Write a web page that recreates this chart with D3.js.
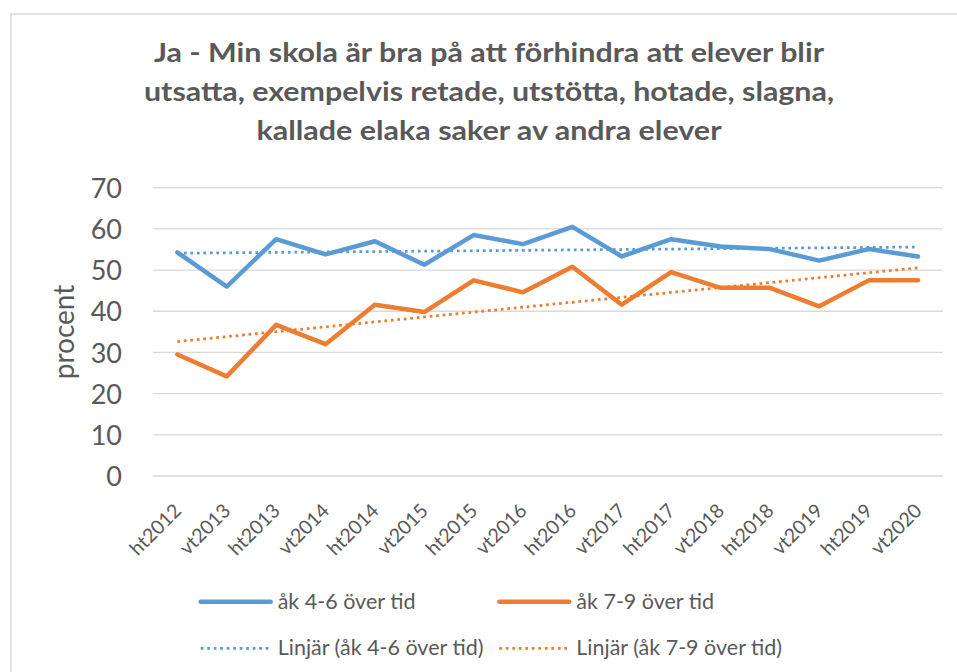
<!DOCTYPE html>
<meta charset='utf-8'>
<style>
	body { margin: 0; background: #fff; }
	#container { width: 957px; height: 672px; }
	text { font-family: Lato, 'Open Sans', sans-serif; fill: #595959; }
</style>
<body>
	<div id='container'>
	</div>
<script src='https://d3js.org/d3.v7.min.js'></script>
<script>
    const terms = ['ht2012', 'vt2013', 'ht2013', 'vt2014', 'ht2014', 'vt2015', 'ht2015', 'vt2016',
		'ht2016', 'vt2017', 'ht2017', 'vt2018', 'ht2018', 'vt2019', 'ht2019', 'vt2020'];
    const ak46 = [54.3, 46.0, 57.5, 53.8, 57.0, 51.3, 58.5, 56.3, 60.5, 53.3, 57.5, 55.7, 55.1, 52.3, 55.1, 53.3];
    const ak79 = [29.5, 24.2, 36.7, 32.0, 41.6, 39.8, 47.5, 44.6, 50.8, 41.6, 49.5, 45.7, 45.7, 41.2, 47.5, 47.5];
    const yTicks = [0, 10, 20, 30, 40, 50, 60, 70];
    const titleLines = ['Ja - Min skola är bra på att förhindra att elever blir',
		'utsatta, exempelvis retade, utstötta, hotade, slagna,',
		'kallade elaka saker av andra elever'];
    const seriesNames = ['åk 4-6 över tid', 'åk 7-9 över tid'];
    const trendNames = ['Linjär (åk 4-6 över tid)', 'Linjär (åk 7-9 över tid)'];
    const colors = ['#5b9bd5', '#ed7d31'];

    const plot = { left: 152.7, right: 942.7, top: 187.7, bottom: 476 };
    // widths of the title lines as they stand in the picture
    const titleWidths = [670, 690, 465];

    let svg = d3.select( '#container' )
		.append( 'svg' )
		.attr( 'width', 957 )
		.attr( 'height', 672 );

	// chart frame (right and bottom edges fall outside the picture)
	svg.append( 'path' )
		.attr( 'd', 'M11,700 V14 H990' )
		.attr( 'fill', 'none' )
		.attr( 'stroke', '#d9d9d9' )
		.attr( 'stroke-width', 1.5 );

	let title = svg.append( 'text' )
		.attr( 'text-anchor', 'middle' )
		.style( 'font-weight', 'bold' )
		.style( 'font-size', '27px' );
	titleLines.forEach( ( t, i ) => {
		title.append( 'tspan' )
			.attr( 'x', 489 )
			.attr( 'y', 62.3 + i * 38.8 )
			.attr( 'textLength', titleWidths[i] )
			.attr( 'lengthAdjust', 'spacingAndGlyphs' )
			.text( t );
	} );

	let xScale = d3.scaleBand()
		.domain( terms )
		.range( [plot.left, plot.right] );
	let yScale = d3.scaleLinear()
		.domain( [0, 70] )
		.range( [plot.bottom, plot.top] );

	// gridlines
	svg.append( 'g' )
		.selectAll( 'line' )
		.data( yTicks )
		.join( 'line' )
			.attr( 'x1', plot.left )
			.attr( 'x2', plot.right )
			.attr( 'y1', d => yScale( d ) )
			.attr( 'y2', d => yScale( d ) )
			.attr( 'stroke', '#d9d9d9' )
			.attr( 'stroke-width', 1.3 );

	let yAxis = d3.axisLeft( yScale )
		.tickValues( yTicks )
		.tickSize( 0 )
		.tickPadding( 0 );
	let yAxisEl = svg.append( 'g' )
		.attr( 'transform', 'translate( 122, 0 )' )
		.call( yAxis );
	yAxisEl.select( '.domain' ).remove();
	yAxisEl.selectAll( 'text' )
		.attr( 'dy', '0.36em' )
		.style( 'font-family', 'Lato, sans-serif' )
		.style( 'font-size', '27px' )
		.attr( 'fill', '#595959' );

	svg.append( 'text' )
		.attr( 'transform', 'translate( 74, 332 ) rotate( -90 )' )
		.attr( 'text-anchor', 'middle' )
		.style( 'font-size', '28px' )
		.text( 'procent' );

	let xAxis = d3.axisBottom( xScale )
		.tickSize( 0 )
		.tickPadding( 0 );
	let xAxisEl = svg.append( 'g' )
		.attr( 'transform', `translate( 0, ${plot.bottom} )` )
		.call( xAxis );
	xAxisEl.select( '.domain' ).remove();
	xAxisEl.selectAll( 'text' )
		.attr( 'transform', 'translate( 5, 36 ) rotate( -45 )' )
		.attr( 'text-anchor', 'end' )
		.attr( 'dy', 0 )
		.attr( 'y', 0 )
		.style( 'font-family', 'Lato, sans-serif' )
		.style( 'font-size', '19.5px' )
		.attr( 'fill', '#595959' );

	const line = d3.line()
		.x( ( d, i ) => xScale( terms[i] ) + xScale.bandwidth() / 2 )
		.y( d => yScale( d ) );

	// least squares trend, as Excel's linear trendline
	const trend = vals => {
		const n = vals.length, xs = d3.range( n );
		const mx = d3.mean( xs ), my = d3.mean( vals );
		const b = d3.sum( xs, i => ( i - mx ) * ( vals[i] - my ) ) / d3.sum( xs, i => ( i - mx ) ** 2 );
		return xs.map( i => my + b * ( i - mx ) );
	};

	[ak46, ak79].forEach( ( vals, k ) => {
		svg.append( 'path' )
			.attr( 'd', line( trend( vals ) ) )
			.attr( 'fill', 'none' )
			.attr( 'stroke', colors[k] )
			.attr( 'stroke-width', 2.75 )
			.attr( 'stroke-dasharray', '2.75 3.75' );
	} );
	[ak46, ak79].forEach( ( vals, k ) => {
		svg.append( 'path' )
			.attr( 'd', line( vals ) )
			.attr( 'fill', 'none' )
			.attr( 'stroke', colors[k] )
			.attr( 'stroke-width', 4.5 )
			.attr( 'stroke-linejoin', 'round' )
			.attr( 'stroke-linecap', 'round' );
	} );

	// legend
	const legendX = [200.7, 499.3], legendY = [601.7, 648.3];
	let legend = svg.append( 'g' );
	[seriesNames, trendNames].forEach( ( names, row ) => {
		names.forEach( ( name, k ) => {
			legend.append( 'line' )
				.attr( 'x1', legendX[k] )
				.attr( 'x2', legendX[k] + 70 )
				.attr( 'y1', legendY[row] )
				.attr( 'y2', legendY[row] )
				.attr( 'stroke', colors[k] )
				.attr( 'stroke-width', row ? 2.75 : 4.5 )
				.attr( 'stroke-linecap', row ? 'butt' : 'round' )
				.attr( 'stroke-dasharray', row ? '2.75 3.75' : null );
			legend.append( 'text' )
				.attr( 'x', legendX[k] + 77 )
				.attr( 'y', legendY[row] + 7 )
				.style( 'font-size', '21.5px' )
				.text( name );
		} );
	} );
</script>
</body>
